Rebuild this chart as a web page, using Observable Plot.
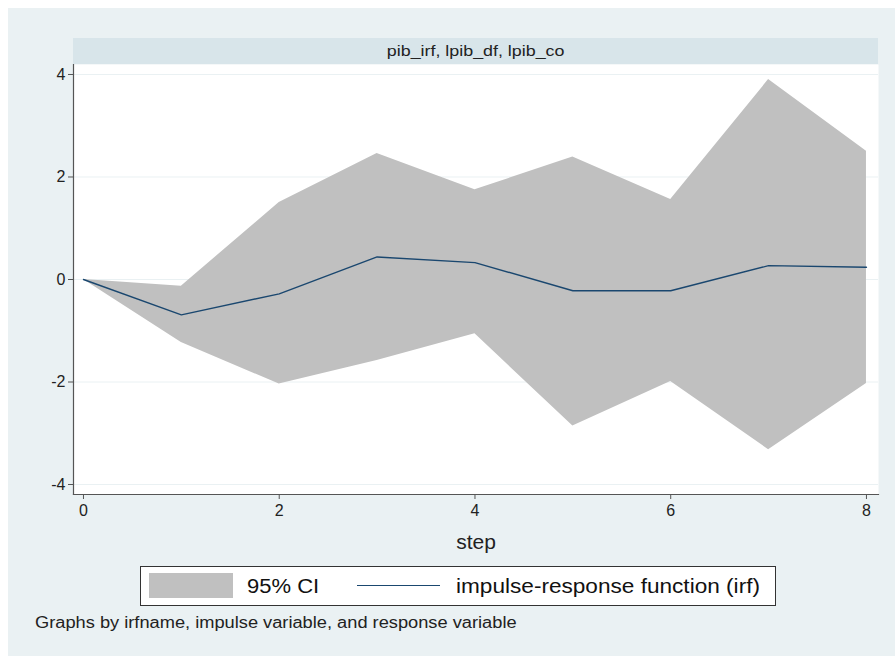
<!DOCTYPE html>
<html>
<head>
<meta charset="utf-8">
<script src="https://cdn.jsdelivr.net/npm/d3@7"></script>
<script src="https://cdn.jsdelivr.net/npm/@observablehq/plot@0.6"></script>
<style>
  html, body { margin: 0; padding: 0; background: #ffffff; }
  body { width: 895px; height: 656px; position: relative; overflow: hidden; font-family: "Liberation Sans", Arial, sans-serif; }
  #bg { position: absolute; left: 8px; top: 8px; right: 0; bottom: 0; background: #eaf1f3; }
  #header { position: absolute; left: 73px; top: 38px; width: 805px; height: 26px; background: #d8e5ea;
            font-size: 15px; color: #222; text-align: center; line-height: 26px; }
  #header span { display: inline-block; transform: scaleX(1.19); }
  #chart { position: absolute; left: 0; top: 64px; }
  #legend { position: absolute; left: 140px; top: 566px; width: 634px; height: 38px; background: #fff;
            border: 1px solid #333; font-size: 20px; color: #111; }
  #legend .sw { position: absolute; left: 8px; top: 6px; width: 84px; height: 25px; background: #c0c0c0; }
  #legend .t1 { position: absolute; left: 106px; top: 0; line-height: 38px; transform: scaleX(1.1); transform-origin: left center; }
  #legend .ln { position: absolute; left: 216px; top: 18px; width: 83px; height: 0; border-top: 1.5px solid #1a476f; }
  #legend .t2 { position: absolute; left: 315px; top: 0; line-height: 38px; white-space: nowrap; transform: scaleX(1.13); transform-origin: left center; }
  #caption { position: absolute; left: 35px; top: 614px; font-size: 16px; color: #222; white-space: nowrap; transform: scaleX(1.14); transform-origin: left center; }
</style>
</head>
<body>
<div id="bg"></div>
<div id="header"><span></span></div>
<div id="chart"></div>
<div id="legend"><div class="sw"></div><div class="t1"></div><div class="ln"></div><div class="t2"></div></div>
<div id="caption"></div>
<script>
const steps = [0, 1, 2, 3, 4, 5, 6, 7, 8];
const irf   = [0, -0.69, -0.28, 0.44, 0.33, -0.22, -0.22, 0.27, 0.24];
const upper = [0, -0.13, 1.50, 2.46, 1.75, 2.39, 1.56, 3.90, 2.50];
const lower = [0, -1.23, -2.04, -1.58, -1.06, -2.86, -1.99, -3.32, -2.03];
const yTicks = [-4, -2, 0, 2, 4];
const xTicks = [0, 2, 4, 6, 8];
const headerText = "pib_irf, lpib_df, lpib_co";
const xLabel = "step";
const legendCI = "95% CI";
const legendIRF = "impulse-response function (irf)";
const captionText = "Graphs by irfname, impulse variable, and response variable";

document.querySelector("#header span").textContent = headerText;
document.querySelector("#legend .t1").textContent = legendCI;
document.querySelector("#legend .t2").textContent = legendIRF;
document.getElementById("caption").textContent = captionText;

const data = steps.map((s, i) => ({step: s, irf: irf[i], upper: upper[i], lower: lower[i]}));

const chart = Plot.plot({
  width: 895,
  height: 493,
  marginLeft: 73,
  marginRight: 17,
  marginTop: 0,
  marginBottom: 63,
  style: {background: "transparent", fontFamily: "'Liberation Sans', Arial, sans-serif", color: "#222"},
  x: {domain: [-0.102, 8.123]},
  y: {domain: [-4.195, 4.195]},
  marks: [
    Plot.frame({fill: "#ffffff", stroke: null}),
    Plot.gridY(yTicks, {stroke: "#eaf1f3", strokeOpacity: 1, strokeWidth: 1}),
    Plot.areaY(data, {x: "step", y1: "lower", y2: "upper", fill: "#c0c0c0", curve: "linear"}),
    Plot.lineY(data, {x: "step", y: "irf", stroke: "#1a476f", strokeWidth: 1.4}),
    Plot.frame({anchor: "left", stroke: "#555", strokeWidth: 1.2}),
    Plot.frame({anchor: "bottom", stroke: "#555", strokeWidth: 1.2}),
    Plot.axisY({ticks: yTicks, tickSize: 5, tickPadding: 3, fontSize: 16, label: null, stroke: "#555", tickFormat: d => d < 0 ? "-" + Math.abs(d) : String(d)}),
    Plot.axisX({ticks: xTicks, tickSize: 5, tickPadding: 5, fontSize: 16, label: null, stroke: "#555"}),
    Plot.text([xLabel], {text: d => d, frameAnchor: "bottom", dy: 54, fontSize: 21, fill: "#222"})
  ]
});
document.getElementById("chart").appendChild(chart);
</script>
</body>
</html>
